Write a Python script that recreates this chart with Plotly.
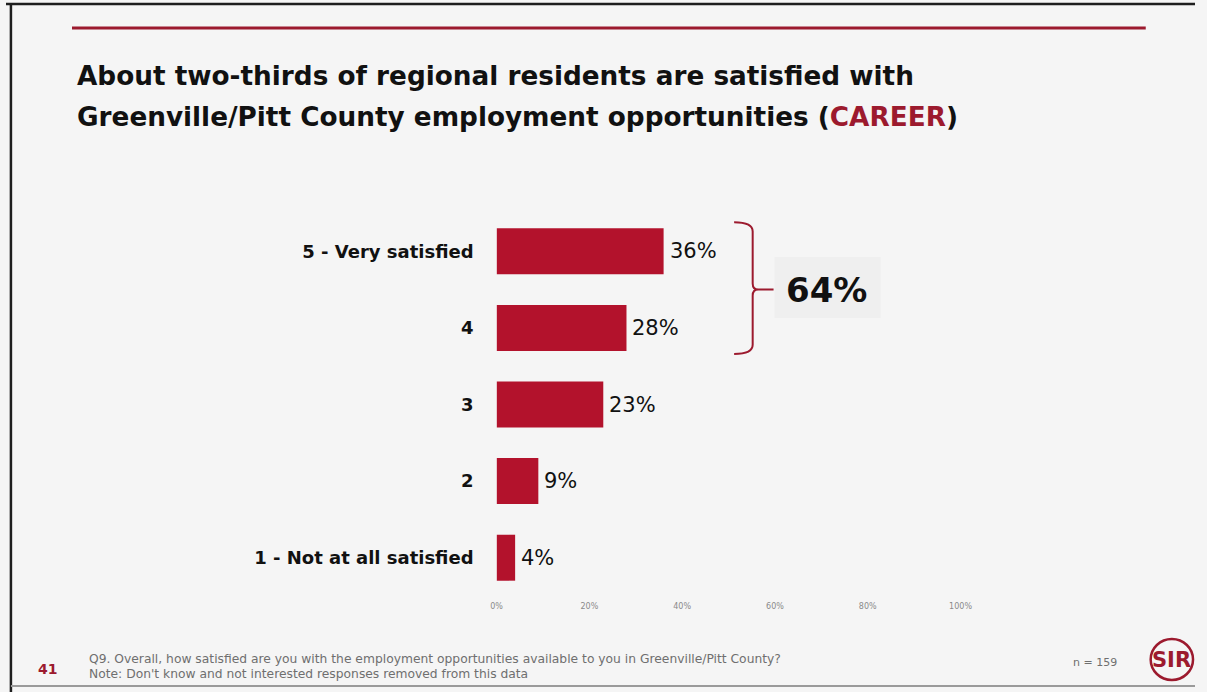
import plotly.graph_objects as go

# Survey responses (share of respondents, %)
categories = ["5 - Very satisfied", "4", "3", "2", "1 - Not at all satisfied"]
values = [36, 28, 23, 9, 4]
tick_vals = [0, 20, 40, 60, 80, 100]
tick_text = ["0%", "20%", "40%", "60%", "80%", "100%"]
top_two_box = 64  # 5 + 4 combined

W, H = 1207, 692
BAR = "#b3122c"
DARK_RED = "#9c1a2e"
BG = "#f5f5f5"
FONT = "DejaVu Sans"


def px(x):
    return x / W


def py(y):
    return 1 - y / H


positions = list(range(len(categories)))

fig = go.Figure()
fig.add_trace(go.Bar(
    x=values,
    y=positions,
    orientation="h",
    marker=dict(color=BAR, line=dict(width=0)),
    hoverinfo="skip",
))

fig.update_layout(
    width=W, height=H,
    margin=dict(l=0, r=0, t=0, b=0),
    paper_bgcolor=BG, plot_bgcolor=BG,
    showlegend=False,
    bargap=0.4,
    xaxis=dict(
        domain=[px(498), px(969)],
        range=[0, 100],
        tickvals=tick_vals, ticktext=tick_text,
        tickfont=dict(family=FONT, size=8, color="#8a8a8a"),
        showgrid=False, zeroline=False, showline=False,
        ticks="", ticklabelstandoff=4,
    ),
    yaxis=dict(
        domain=[py(596), py(213)],
        range=[len(categories) - 0.5, -0.5],
        tickvals=positions, ticktext=categories,
        tickfont=dict(family=FONT, size=18, color="#111111", weight="bold"),
        showgrid=False, zeroline=False, showline=False,
        ticks="", ticklabelstandoff=22,
    ),
)

shapes = []
# slide edges: dark top and left, faint grey bottom
shapes.append(dict(type="line", xref="paper", yref="paper",
                   x0=0, x1=1, y0=py(4), y1=py(4),
                   line=dict(color="#1e1e1e", width=2.5)))
shapes.append(dict(type="line", xref="paper", yref="paper",
                   x0=px(5), x1=px(5), y0=py(4), y1=0,
                   line=dict(color="#1e1e1e", width=2.5)))
shapes.append(dict(type="line", xref="paper", yref="paper",
                   x0=px(5), x1=1, y0=py(686), y1=py(686),
                   line=dict(color="#9a9a9a", width=2)))
# red rule under the header
shapes.append(dict(type="line", xref="paper", yref="paper",
                   x0=px(67), x1=px(1157), y0=py(28), y1=py(28),
                   line=dict(color=DARK_RED, width=3)))
# faint panel behind the combined figure
shapes.append(dict(type="rect", xref="paper", yref="paper",
                   x0=px(780), x1=px(888), y0=py(318), y1=py(257),
                   fillcolor="rgba(0,0,0,0.022)", line=dict(width=0), layer="below"))
# brace grouping the top two responses
bx, hook, tip = 55.2, 51.2, 59.7
y_top, y_mid, y_bot = -0.38, 0.5, 1.34
brace = (f"M {hook},{y_top} Q {bx},{y_top} {bx},{y_top + 0.12} "
         f"L {bx},{y_mid - 0.08} Q {bx},{y_mid} {bx + 1.2},{y_mid} L {tip},{y_mid} "
         f"M {bx + 1.2},{y_mid} Q {bx},{y_mid} {bx},{y_mid + 0.08} "
         f"L {bx},{y_bot - 0.12} Q {bx},{y_bot} {hook},{y_bot}")
shapes.append(dict(type="path", xref="x", yref="y", path=brace,
                   line=dict(color=DARK_RED, width=2)))
# SIR logo ring
shapes.append(dict(type="circle", xref="paper", yref="paper",
                   x0=px(1162), x1=px(1205), y0=py(680), y1=py(639),
                   line=dict(color=DARK_RED, width=2.5)))
fig.update_layout(shapes=shapes)

annotations = [
    dict(x=px(70), y=py(76), xref="paper", yref="paper", xanchor="left", yanchor="middle",
         text="About two-thirds of regional residents are satisfied with",
         font=dict(family=FONT, size=26.3, color="#111111", weight="bold"), showarrow=False),
    dict(x=px(70), y=py(117), xref="paper", yref="paper", xanchor="left", yanchor="middle",
         text=f"Greenville/Pitt County employment opportunities (<span style='color:{DARK_RED}'>CAREER</span>)",
         font=dict(family=FONT, size=26.3, color="#111111", weight="bold"), showarrow=False),
    dict(x=71.2, y=y_mid, xref="x", yref="y", xanchor="center", yanchor="middle",
         text=f"{top_two_box}%",
         font=dict(family=FONT, size=34, color="#111111", weight="bold"), showarrow=False),
    dict(x=px(82), y=py(659), xref="paper", yref="paper", xanchor="left", yanchor="middle",
         text="Q9. Overall, how satisfied are you with the employment opportunities available to you in Greenville/Pitt County?",
         font=dict(family=FONT, size=12.3, color="#6f6f6f"), showarrow=False),
    dict(x=px(82), y=py(674), xref="paper", yref="paper", xanchor="left", yanchor="middle",
         text="Note: Don't know and not interested responses removed from this data",
         font=dict(family=FONT, size=12.3, color="#6f6f6f"), showarrow=False),
    dict(x=px(42), y=py(669), xref="paper", yref="paper", xanchor="center", yanchor="middle",
         text="41", font=dict(family=FONT, size=14, color=DARK_RED, weight="bold"), showarrow=False),
    dict(x=px(1130), y=py(662), xref="paper", yref="paper", xanchor="right", yanchor="middle",
         text="n = 159", font=dict(family=FONT, size=11, color="#6f6f6f"), showarrow=False),
    dict(x=px(1183), y=py(660), xref="paper", yref="paper", xanchor="center", yanchor="middle",
         text="SIR", font=dict(family=FONT, size=21, color=DARK_RED, weight="bold"), showarrow=False),
]
# value labels next to each bar
for pos, v in zip(positions, values):
    annotations.append(dict(x=v, y=pos, xref="x", yref="y", xanchor="left", yanchor="middle",
                            xshift=4, text=f"{v}%", showarrow=False,
                            font=dict(family=FONT, size=21, color="#111111")))
fig.update_layout(annotations=annotations)

fig.write_html(
    "out.html",
    post_script="document.body.style.margin='0';document.body.style.overflow='hidden';",
)
